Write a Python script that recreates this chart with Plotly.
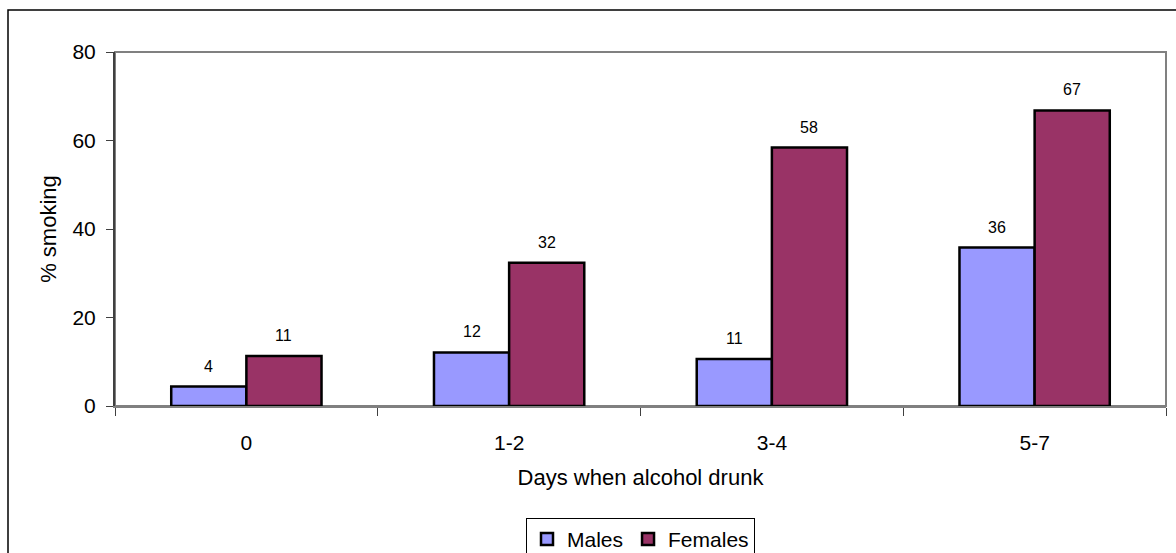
import plotly.graph_objects as go

categories = ["0", "1-2", "3-4", "5-7"]
males = [4.4, 12.1, 10.6, 35.8]
females = [11.3, 32.4, 58.4, 66.8]
y_ticks = [0, 20, 40, 60, 80]

MALE_COLOR = "#9999FF"
FEMALE_COLOR = "#993366"
FONT = "Liberation Sans, Arial, sans-serif"

W, H = 1176, 553
ML, MR, MT, MB = 115, 10, 52, 147
BARGAP = 0.428

fig = go.Figure()
fig.add_trace(go.Bar(name="Males", x=categories, y=males,
                     marker=dict(color=MALE_COLOR, line=dict(color="black", width=2.5))))
fig.add_trace(go.Bar(name="Females", x=categories, y=females,
                     marker=dict(color=FEMALE_COLOR, line=dict(color="black", width=2.5))))

# data labels above bars
plot_w = W - ML - MR
bar_px = plot_w / len(categories) * (1 - BARGAP) / 2
for vals, shift in ((males, -bar_px / 2), (females, bar_px / 2)):
    for c, v in zip(categories, vals):
        fig.add_annotation(x=c, y=v, text=f"{v:.0f}", showarrow=False,
                           xshift=shift, yshift=10, yanchor="bottom",
                           font=dict(family=FONT, size=16, color="black"))

# plot area frame (gray) and outer chart border
fig.add_shape(type="rect", xref="paper", yref="paper", x0=0, x1=1, y0=0, y1=1,
              line=dict(color="#808080", width=2), layer="below")
ph = H - MT - MB
fig.add_shape(type="rect", xref="paper", yref="paper",
              x0=(8 - ML) / plot_w, x1=(W + 5 - ML) / plot_w,
              y0=(ph + MT - H - 10) / ph, y1=(ph + MT - 10) / ph,
              line=dict(color="black", width=1.5))

fig.update_layout(
    width=W, height=H,
    margin=dict(l=ML, r=MR, t=MT, b=MB, autoexpand=False),
    paper_bgcolor="white", plot_bgcolor="white",
    barmode="group", bargap=BARGAP, bargroupgap=0,
    font=dict(family=FONT, size=21, color="black"),
    showlegend=True,
    legend=dict(orientation="h", x=0.5, xanchor="center", y=-0.316, yanchor="top",
                bordercolor="black", borderwidth=1, font=dict(size=21),
                itemclick=False, itemwidth=30),
    xaxis=dict(
        showgrid=False, showline=True, linecolor="#808080", linewidth=2,
        ticks="outside", tickson="boundaries", ticklen=8, tickcolor="#404040",
        ticklabelstandoff=17, tickfont=dict(size=21),
        title=dict(text="Days when alcohol drunk", font=dict(size=22), standoff=16),
    ),
    yaxis=dict(
        range=[0, 80], tickvals=y_ticks, showgrid=False, zeroline=False,
        showline=True, linecolor="#404040", linewidth=2,
        ticks="outside", ticklen=7, tickcolor="#404040",
        ticklabelstandoff=6, tickfont=dict(size=21),
        title=dict(text="% smoking", font=dict(size=22), standoff=10),
    ),
)

fig.write_html("out.html", config={"displayModeBar": False},
               post_script="document.body.style.margin='0';document.body.style.overflow='hidden';")
